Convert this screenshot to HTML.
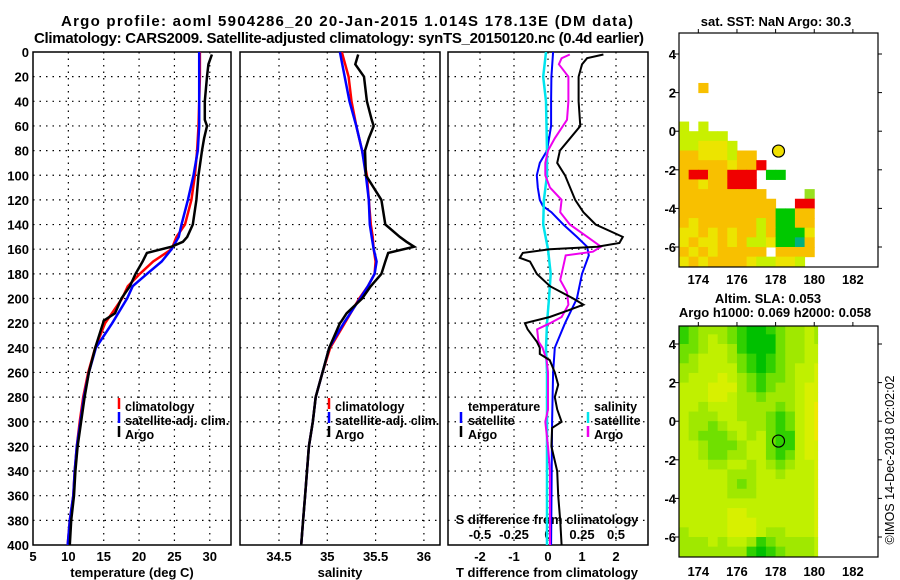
<!DOCTYPE html>
<html><head><meta charset="utf-8"><style>
html,body{margin:0;padding:0;background:#fff;}
svg{display:block;font-family:"Liberation Sans",sans-serif;font-weight:bold;}
</style></head><body>
<svg id="fig" width="900" height="580" viewBox="0 0 900 580" xmlns="http://www.w3.org/2000/svg">
<defs>
<clipPath id="cp1"><rect x="33" y="52" width="198" height="493"/></clipPath>
<clipPath id="cp2"><rect x="240" y="52" width="200" height="493"/></clipPath>
<clipPath id="cp3"><rect x="448" y="52" width="200" height="493"/></clipPath>
<clipPath id="cpm1"><rect x="679" y="33" width="199" height="234"/></clipPath>
<clipPath id="cpm2"><rect x="679" y="326" width="199" height="231"/></clipPath>
</defs>
<text x="347" y="26" text-anchor="middle" font-size="15" textLength="572">Argo profile: aoml 5904286_20 20-Jan-2015 1.014S 178.13E (DM data)</text>
<text x="339" y="43" text-anchor="middle" font-size="15" textLength="610">Climatology: CARS2009. Satellite-adjusted climatology: synTS_20150120.nc (0.4d earlier)</text>
<g id="root"></g>
</svg>
<script>
// ---------- data ----------
const depthTicks = [0,20,40,60,80,100,120,140,160,180,200,220,240,260,280,300,320,340,360,380,400];
const tempTicks = [5,10,15,20,25,30];
const salTicks = [34.5,35,35.5,36];
const salTickLabels = ["34.5","35","35.5","36"];
const tdTicks = [-2,-1,0,1,2];
const sdTicks = [-0.5,-0.25,0,0.25,0.5];
const sdTickLabels = ["-0.5","-0.25","0","0.25","0.5"];

const climDepth = [0,20,40,60,80,100,120,140,150,160,170,180,190,200,220,240,260,280,300,320,340,360,380,400];
const tClim = [28.6,28.6,28.5,28.4,28.2,27.9,27.4,26.5,25.3,24.6,22,20.1,18.4,17.6,15.2,13.8,12.8,12.1,11.6,11.2,10.9,10.7,10.2,9.9];
const tSat = [28.5,28.5,28.5,28.5,28.3,27.7,26.9,26,25.6,24.6,23.2,21.1,19.1,18.3,16.2,13.9,12.9,12.2,11.7,11.2,10.9,10.7,10.2,9.9];
const sClim = [35.15,35.22,35.25,35.3,35.36,35.41,35.43,35.45,35.47,35.48,35.5,35.49,35.42,35.33,35.18,35.03,34.95,34.88,34.85,34.81,34.79,34.77,34.75,34.73];
const sSat = [35.13,35.18,35.23,35.3,35.36,35.40,35.43,35.44,35.46,35.48,35.51,35.49,35.42,35.34,35.17,35.02,34.95,34.88,34.85,34.81,34.79,34.77,34.75,34.73];

const argoDepth = [2,10,20,40,55,60,70,80,100,120,140,150,154,158,163,170,180,190,200,212,218,220,240,260,280,300,320,340,360,380,400];
const tArgo = [30.3,29.8,29.6,29.3,29.3,29.6,29.2,28.9,28.4,28.1,27.6,26.8,26.2,24.6,21.1,20.5,19.5,18.7,17.5,16.6,15.0,14.9,13.8,12.9,12.3,11.8,11.3,11.0,10.8,10.4,10.2];
const sArgo = [35.32,35.29,35.38,35.41,35.46,35.48,35.43,35.39,35.40,35.56,35.6,35.75,35.82,35.9,35.63,35.6,35.56,35.45,35.36,35.2,35.15,35.13,35.02,34.95,34.88,34.85,34.81,34.79,34.77,34.75,34.73];

const tdArgoDepth = [2,5,10,20,40,60,70,80,90,100,120,130,140,150,155,158,160,163,167,170,180,190,200,205,210,215,220,225,235,240,245,250,260,270,280,290,300,305,320,340,360,380,400];
const tdArgo = [1.63,1.15,1.0,0.9,0.9,0.95,0.65,0.35,0.27,0.5,0.8,1.04,1.4,2.2,2.1,1.45,0.05,-0.74,-0.83,-0.53,-0.33,0.06,0.74,1.04,0.56,0.05,-0.68,-0.6,-0.33,-0.24,-0.24,0.05,0.2,0.3,0.2,0.27,0.4,0.12,0.1,0.27,0.3,0.36,0.4];
const tdSatDepth = [0,20,40,60,80,90,100,110,120,125,130,140,150,158,165,180,200,220,240,260,300,400];
const tdSat = [0.15,0.1,0.09,0.09,-0.03,-0.24,-0.33,-0.3,-0.24,-0.15,0.1,0.45,0.85,1.15,1.2,1.0,0.85,0.5,0.2,0.15,0.12,0.09];
const sdArgoDepth = [2,5,10,20,40,55,65,70,80,90,100,110,120,130,140,150,158,162,165,175,185,195,205,215,220,225,235,240,250,260,290,300,320,340,400];
const sdArgo = [0.16,0.1,0.08,0.15,0.15,0.14,0.08,0.05,0.0,-0.02,-0.02,0.015,0.1,0.09,0.16,0.29,0.39,0.33,0.13,0.11,0.09,0.14,0.15,0.1,0.015,-0.08,-0.07,-0.04,-0.01,0.0,0.0,-0.02,0.0,0.015,0.015];
const sdSatDepth = [0,20,40,80,100,120,140,160,180,200,220,240,260,400];
const sdSat = [-0.015,-0.035,-0.015,-0.007,-0.007,-0.03,-0.035,0.0,0.02,0.007,-0.007,-0.015,-0.007,-0.007];

const lonTicks = [174,176,178,180,182];
const latTicks = [4,2,0,-2,-4,-6];
const argoLon = 178.15, argoLat = -1.03;

// SST map: rows from lat 0.5 (top) down in 0.5 deg, cols from lon 173 in 0.5 deg
const sstTopLat = 0.5, sstLeftLon = 173, sstCell = 0.5;
const sstRows = [
"g.g...........",
"ggggg.........",
"ggyyyg........",
"ooyyygoo......",
"oooooyoor.....",
"orroorrr.GG...",
"ooyoorrr......",
"ooooooooo....l",
"oooooooooo..rr",
"ooooooooooGGoo",
"oyoooooogoGGoo",
"yyoyoyoogoGGGy",
"yoyyoyoggyGGTo",
"oyoyooooo.oooo",
"yoyooooyggyyg."];
const sstExtra = [[174,2.5,"o"]];
const sstColors = {o:"#f8c000",y:"#ece400",g:"#c8f000",r:"#f00000",G:"#00c800",T:"#00b080",l:"#98e020"};

// SLA map: rows from lat 5 (top), cols from lon 173, 0.5 deg
const slaTopLat = 5, slaLeftLon = 173, slaCell = 0.5;
const slaRows = [
"543334566543323","543234566643323","443223566643322","432223456543322",
"332222456543221","322212345443221","222111345433211","222112334333211",
"223222333343210","233322333454210","233432233454210","234443232455210",
"223444322455211","223443322454211","222332232343221","222223332232221",
"222223432222221","222223332222221","222222222222221","222221122222221",
"222221112222221","322221112332221","333232235433332","333333356543332"];
const slaColors = ["#f0e800","#d8f000","#c0f000","#a0e800","#70e000","#30d000","#00c000"];

// ---------- helpers ----------
const NS = "http://www.w3.org/2000/svg";
const root = document.getElementById("root");
function mk(tag, attrs, parent){const e=document.createElementNS(NS,tag);for(const k in attrs)e.setAttribute(k,attrs[k]);(parent||root).appendChild(e);return e;}
const yTop=52, yBot=545;
function yD(d){return yTop+(d/400)*(yBot-yTop);}
function scale(d0,d1,r0,r1){return v=>r0+(v-d0)/(d1-d0)*(r1-r0);}
const xT = scale(5,33,33,231);
const xS = scale(34.5,35,279,327.3);
const xTd = scale(-3,3,446,650);
const xSd = v=>xTd(v*4);

function panel(name,x0,x1,vt,xf){
  const g=mk("g",{});
  
  
  depthTicks.forEach(d=>{ if(d>0&&d<400){const l=mk("line",{x1:x0,x2:x1,y1:yD(d),y2:yD(d),stroke:"#000","stroke-width":1.2,"stroke-dasharray":"1.5,5"},g);
    
    }});
  vt.forEach(v=>{const x=xf(v); if(x>x0+1&&x<x1-1){const l=mk("line",{x1:x,x2:x,y1:yTop,y2:yBot,stroke:"#000","stroke-width":1.2,"stroke-dasharray":"1.5,5"},g);
    
    }});
  const r=mk("rect",{x:x0,y:yTop,width:x1-x0,height:yBot-yTop,fill:"none",stroke:"#000","stroke-width":1.5},g);
  
  
  return g;
}
function line(depths,vals,xf,color,w,clip,name){
  const pts=depths.map((d,i)=>xf(vals[i]).toFixed(1)+","+yD(d).toFixed(1)).join(" ");
  const p=mk("polyline",{points:pts,fill:"none",stroke:color,"stroke-width":w,"stroke-linejoin":"miter","clip-path":"url(#"+clip+")"});
  
  
}
function txt(x,y,s,size,anchor,name,extra){
  const t=mk("text",Object.assign({x:x,y:y,"font-size":size,"text-anchor":anchor||"start"},extra||{}));
  t.textContent=s;
  
  
  return t;
}
function legMark(x,y,color,name){
  const l=mk("line",{x1:x,x2:x,y1:y-9,y2:y+2,stroke:color,"stroke-width":2.5});
  
  
}

// ---------- panel 1: temperature ----------
panel("temperature-panel",33,231,tempTicks,xT);
depthTicks.forEach(d=>txt(29,yD(d)+5,String(d),13,"end","depth-tick-label"));
tempTicks.forEach(v=>txt(xT(v),561,String(v),13,"middle","temp-tick-label"));
txt(132,577,"temperature (deg C)",13,"middle","temperature-axis-title");
line(climDepth,tClim,xT,"#ff0000",2.5,"cp1","temp-climatology-line");
line(climDepth,tSat,xT,"#0000ff",2.5,"cp1","temp-satellite-line");
line(argoDepth,tArgo,xT,"#000000",2.5,"cp1","temp-argo-line");
legMark(119,407,"#ff0000","legend-climatology-marker");txt(125,411,"climatology",12.5,"start","legend-climatology");
legMark(119,421,"#0000ff","legend-satellite-marker");txt(125,425,"satellite-adj. clim.",12.5,"start","legend-satellite");
legMark(119,435,"#000000","legend-argo-marker");txt(125,439,"Argo",12.5,"start","legend-argo");

// ---------- panel 2: salinity ----------
panel("salinity-panel",240,440,salTicks,xS);
salTicks.forEach((v,i)=>txt(xS(v),561,salTickLabels[i],13,"middle","salinity-tick-label"));
txt(340,577,"salinity",13,"middle","salinity-axis-title");
line(climDepth,sClim,xS,"#ff0000",2.5,"cp2","sal-climatology-line");
line(climDepth,sSat,xS,"#0000ff",2.5,"cp2","sal-satellite-line");
line(argoDepth,sArgo,xS,"#000000",2.5,"cp2","sal-argo-line");
legMark(329,407,"#ff0000","legend-climatology-marker");txt(335,411,"climatology",12.5,"start","legend-climatology");
legMark(329,421,"#0000ff","legend-satellite-marker");txt(335,425,"satellite-adj. clim.",12.5,"start","legend-satellite");
legMark(329,435,"#000000","legend-argo-marker");txt(335,439,"Argo",12.5,"start","legend-argo");

// ---------- panel 3: differences ----------
panel("difference-panel",448,648,tdTicks,xTd);
tdTicks.forEach(v=>txt(xTd(v),561,String(v),13,"middle","t-diff-tick-label"));
sdTicks.forEach((v,i)=>txt(xSd(v),539,sdTickLabels[i],13,"middle","s-diff-tick-label"));
txt(547,524,"S difference from climatology",13,"middle","s-diff-axis-title");
txt(547,577,"T difference from climatology",13,"middle","t-diff-axis-title");
line(tdSatDepth,tdSat,xTd,"#0000ff",2,"cp3","t-diff-satellite-line");
line(sdSatDepth,sdSat,xSd,"#00e5ee",2.5,"cp3","s-diff-satellite-line");
line(sdArgoDepth,sdArgo,xSd,"#ee00ee",2,"cp3","s-diff-argo-line");
line(tdArgoDepth,tdArgo,xTd,"#000000",2,"cp3","t-diff-argo-line");
txt(468,411,"temperature",12.5,"start","legend-temperature-header");
legMark(461,421,"#0000ff","legend-t-satellite-marker");txt(468,425,"satellite",12.5,"start","legend-t-satellite");
legMark(461,435,"#000000","legend-t-argo-marker");txt(468,439,"Argo",12.5,"start","legend-t-argo");
txt(594,411,"salinity",12.5,"start","legend-salinity-header");
legMark(588,421,"#00e5ee","legend-s-satellite-marker");txt(594,425,"satellite",12.5,"start","legend-s-satellite");
legMark(588,435,"#ee00ee","legend-s-argo-marker");txt(594,439,"Argo",12.5,"start","legend-s-argo");

// ---------- maps ----------
const mx0=679, mx1=878, pxDeg=19.32;
function lonX(lon){return mx0+(lon-173)*pxDeg;}
function map(name,top,bot,lat4y,clip){
  const latY=lat=>lat4y+(4-lat)*19.3;
  const g=mk("g",{});
  
  
  return {g,latY,top,bot,clip};
}
function mapFrame(m,labelY){
  const r=mk("rect",{x:mx0,y:m.top,width:mx1-mx0,height:m.bot-m.top,fill:"none",stroke:"#000","stroke-width":1.2},m.g);
  
  
  latTicks.forEach(v=>{const y=m.latY(v);
    mk("line",{x1:mx0-4,x2:mx0,y1:y,y2:y,stroke:"#000"},m.g);
    mk("line",{x1:mx1,x2:mx1+4,y1:y,y2:y,stroke:"#000"},m.g);
    txt(676,y+5,String(v),13,"end","lat-tick-label");});
  lonTicks.forEach(v=>{const x=lonX(v);
    mk("line",{x1:x,x2:x,y1:m.top-4,y2:m.top,stroke:"#000"},m.g);
    txt(x,labelY,String(v),13,"middle","lon-tick-label");});
}
// SST map
const m1=map("sst-map",33,267,54,"cpm1");
const sstG=mk("g",{"clip-path":"url(#cpm1)"},m1.g);
sstRows.forEach((row,ri)=>{[...row].forEach((c,ci)=>{ if(c==="."||!sstColors[c])return;
  const lat=sstTopLat-ri*sstCell, lon=sstLeftLon+ci*sstCell;
  const r=mk("rect",{x:lonX(lon),y:m1.latY(lat),width:sstCell*pxDeg+0.5,height:sstCell*19.3+0.5,fill:sstColors[c]},sstG);
  
  });});
sstExtra.forEach(e=>{const r=mk("rect",{x:lonX(e[0]),y:m1.latY(e[1]),width:sstCell*pxDeg+0.5,height:sstCell*19.3+0.5,fill:sstColors[e[2]]},sstG);
  
  });
const c1=mk("circle",{cx:lonX(argoLon),cy:m1.latY(argoLat),r:6,fill:"#f0e000",stroke:"#000","stroke-width":1.2},m1.g);


mapFrame(m1,284);
txt(776,26,"sat. SST: NaN Argo: 30.3",13,"middle","sst-map-title");

// SLA map
const m2=map("sla-map",326,557,344,"cpm2");
const slaG=mk("g",{"clip-path":"url(#cpm2)"},m2.g);
slaRows.forEach((row,ri)=>{[...row].forEach((c,ci)=>{
  const lat=slaTopLat-ri*slaCell, lon=slaLeftLon+ci*slaCell;
  let w=slaCell*pxDeg+0.5; const x=lonX(lon); const xEnd=lonX(180.2); if(x+w>xEnd) w=xEnd-x;
  if(w<=0)return;
  const r=mk("rect",{x:x,y:m2.latY(lat),width:w,height:slaCell*19.3+0.5,fill:slaColors[+c]},slaG);
  
  });});
const c2=mk("circle",{cx:lonX(argoLon),cy:m2.latY(argoLat),r:6,fill:"none",stroke:"#000","stroke-width":1.2},m2.g);


mapFrame(m2,576);
txt(768,303,"Altim. SLA: 0.053",13,"middle","sla-map-title");
txt(775,317,"Argo h1000: 0.069 h2000: 0.058",13,"middle","sla-map-subtitle");
const cr=txt(0,0,"©IMOS 14-Dec-2018 02:02:02",12.5,"middle","copyright-timestamp",{transform:"translate(894,460) rotate(-90)","font-weight":"normal"});
</script>
</body></html>
